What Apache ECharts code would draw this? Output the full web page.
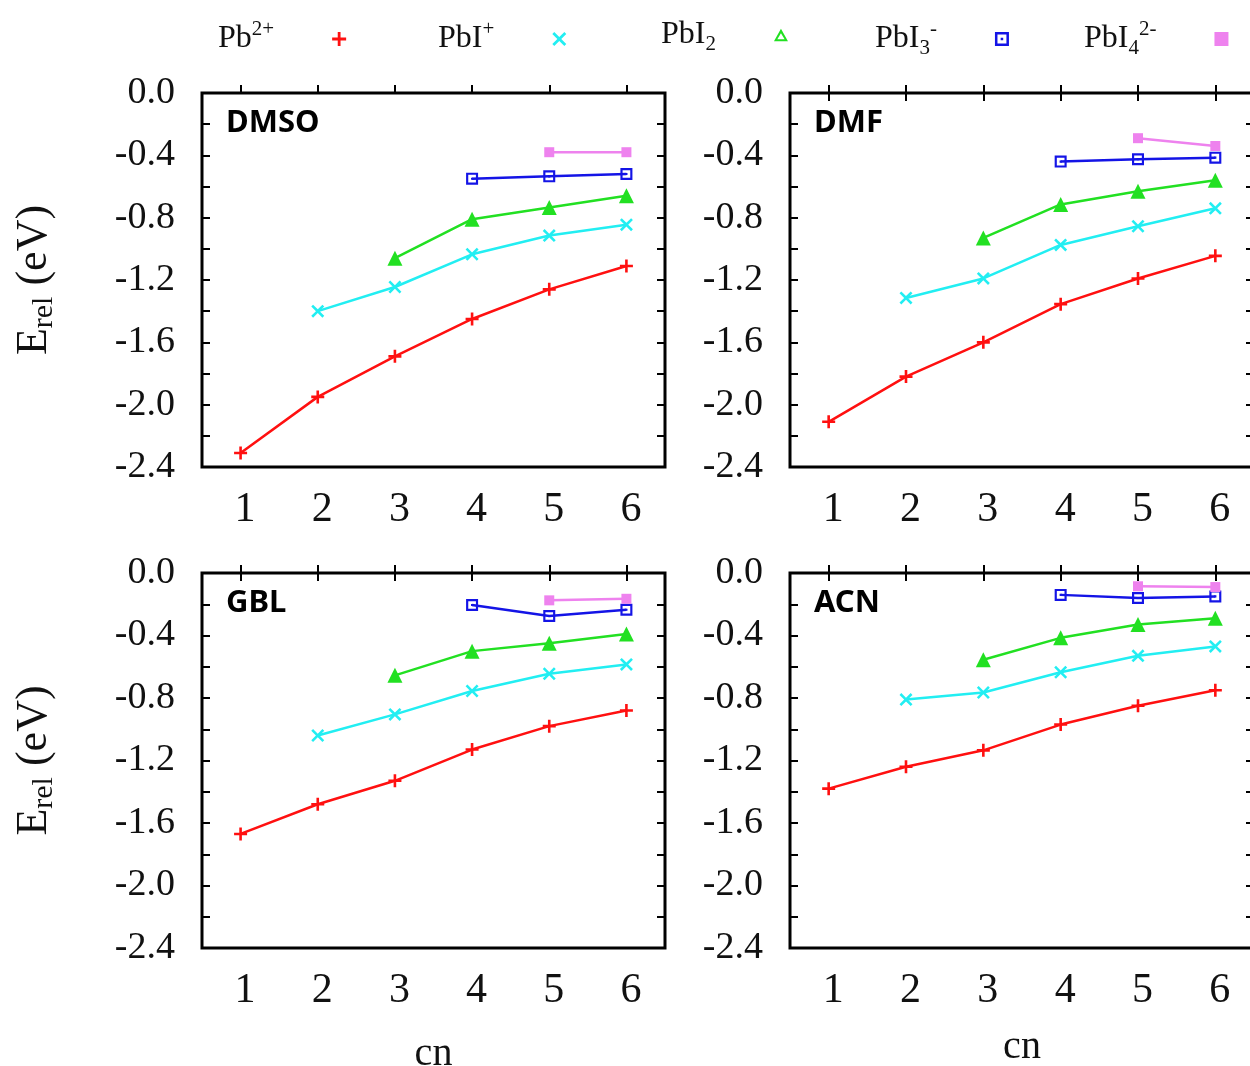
<!DOCTYPE html>
<html>
<head>
<meta charset="utf-8">
<script src="https://cdn.jsdelivr.net/npm/echarts@6/dist/echarts.min.js"></script>
<style>
html, body { margin: 0; padding: 0; background: #fff; }
#chart { width: 1250px; height: 1066px; }
</style>
</head>
<body>
<div id="chart"></div>
<script>
// coordination number
const cn = ['1', '2', '3', '4', '5', '6']
const species = ['Pb2+', 'PbI+', 'PbI2', 'PbI3-', 'PbI42-']
const solvents = ['DMSO', 'DMF', 'GBL', 'ACN']

// E_rel (eV), null = no point at that cn
const dmsoPb = [-2.31, -1.95, -1.69, -1.45, -1.26, -1.11]
const dmsoPbI = [null, -1.40, -1.245, -1.035, -0.915, -0.845]
const dmsoPbI2 = [null, null, -1.06, -0.81, -0.735, -0.66]
const dmsoPbI3 = [null, null, null, -0.55, -0.535, -0.52]
const dmsoPbI4 = [null, null, null, null, -0.38, -0.38]

const dmfPb = [-2.11, -1.82, -1.60, -1.355, -1.19, -1.045]
const dmfPbI = [null, -1.315, -1.19, -0.975, -0.855, -0.74]
const dmfPbI2 = [null, null, -0.93, -0.715, -0.63, -0.56]
const dmfPbI3 = [null, null, null, -0.44, -0.425, -0.415]
const dmfPbI4 = [null, null, null, null, -0.29, -0.34]

const gblPb = [-1.67, -1.48, -1.33, -1.13, -0.98, -0.88]
const gblPbI = [null, -1.04, -0.905, -0.755, -0.645, -0.585]
const gblPbI2 = [null, null, -0.655, -0.50, -0.45, -0.39]
const gblPbI3 = [null, null, null, -0.205, -0.275, -0.235]
const gblPbI4 = [null, null, null, null, -0.175, -0.165]

const acnPb = [-1.38, -1.24, -1.135, -0.97, -0.85, -0.75]
const acnPbI = [null, -0.81, -0.765, -0.635, -0.53, -0.47]
const acnPbI2 = [null, null, -0.555, -0.415, -0.33, -0.29]
const acnPbI3 = [null, null, null, -0.14, -0.16, -0.15]
const acnPbI4 = [null, null, null, null, -0.085, -0.09]

const panelData = [
  [dmsoPb, dmsoPbI, dmsoPbI2, dmsoPbI3, dmsoPbI4],
  [dmfPb, dmfPbI, dmfPbI2, dmfPbI3, dmfPbI4],
  [gblPb, gblPbI, gblPbI2, gblPbI3, gblPbI4],
  [acnPb, acnPbI, acnPbI2, acnPbI3, acnPbI4]
]

// layout of the 4 boxes (right column runs a bit past the page edge, like the original)
const boxes = [
  { left: 202, top: 93, width: 463, height: 374, topTicks: false, yName: true, cnGap: 0 },
  { left: 790, top: 93, width: 464, height: 374, topTicks: true, yName: false, cnGap: 0 },
  { left: 202, top: 573, width: 463, height: 375, topTicks: true, yName: true, cnGap: 86 },
  { left: 790, top: 573, width: 464, height: 375, topTicks: true, yName: false, cnGap: 79 }
]

const colors = ['#ff1010', '#22eef2', '#22e022', '#1414e6', '#ee82ee']
const plusPath = 'path://M4,0H6V4H10V6H6V10H4V6H0V4H4Z'
const crossPath = 'path://M1.4,0L5,3.6L8.6,0L10,1.4L6.4,5L10,8.6L8.6,10L5,6.4L1.4,10L0,8.6L3.6,5L0,1.4Z'
const openTriPath = 'path://M5,0L10,9H0Z M5,3.2L2.4,7.6H7.6Z'
const dotSquarePath = 'path://M0,0H10V10H0Z M1.8,1.8V8.2H8.2V1.8Z M4.1,4.1H5.9V5.9H4.1Z'
const symbols = [plusPath, crossPath, 'triangle', dotSquarePath, 'rect']
const symbolSizes = [13, 13, 15, 12, 10]
const legendIcons = [plusPath, crossPath, openTriPath, dotSquarePath, 'rect']
const legendLeft = [213, 433, 656, 870, 1079]

const serif = '"Liberation Serif", "Times New Roman", serif'
const labelFmt = {
  'Pb2+': '{t|Pb}{sup|2+}{g| }',
  'PbI+': '{t|PbI}{sup|+}{g| }',
  'PbI2': '{t|PbI}{sub|2}{g| }',
  'PbI3-': '{t|PbI}{sub|3}{sup|-}{g| }',
  'PbI42-': '{t|PbI}{sub|4}{sup|2-}{g| }'
}

const grid = []
const xAxis = []
const yAxis = []
const series = []
const graphic = []
const tick = { show: true, inside: true, length: 8, lineStyle: { color: '#000', width: 2 } }

boxes.forEach((b, i) => {
  grid.push({
    left: b.left, top: b.top, width: b.width, height: b.height,
    outerBoundsMode: 'none',
    containLabel: false,
    show: true, borderColor: '#000', borderWidth: 3, backgroundColor: 'transparent'
  })
  xAxis.push({
    type: 'category', gridIndex: i, data: cn, position: 'bottom',
    boundaryGap: true,
    axisLine: { show: false },
    axisTick: Object.assign({ alignWithLabel: true }, tick),
    axisLabel: { fontFamily: serif, fontSize: 42, color: '#111', margin: 22, padding: [0, 0, 0, 9] },
    splitLine: { show: false },
    name: b.cnGap ? 'cn' : '',
    nameLocation: 'middle',
    nameGap: b.cnGap,
    nameTextStyle: { fontFamily: serif, fontSize: 40, color: '#111' }
  })
  xAxis.push({
    type: 'category', gridIndex: i, data: cn, position: 'top',
    boundaryGap: true,
    axisLine: { show: false },
    axisTick: Object.assign({ alignWithLabel: true }, tick, { show: b.topTicks }),
    axisLabel: { show: false },
    splitLine: { show: false }
  })
  yAxis.push({
    type: 'value', gridIndex: i, position: 'left',
    min: -2.4, max: 0, interval: 0.2,
    axisLine: { show: false },
    axisTick: tick,
    splitLine: { show: false },
    axisLabel: {
      fontFamily: serif, fontSize: 38, color: '#111', margin: 27,
      padding: [4, 0, 0, 0],
      formatter: v => (Math.round(v * 10) % 4 === 0 ? v.toFixed(1) : '')
    },
    name: b.yName ? '{e|E}{s|rel}{e| (eV)}' : '',
    nameLocation: 'middle',
    nameRotate: 90,
    nameGap: 143,
    nameTextStyle: {
      rich: {
        e: { fontFamily: serif, fontSize: 44, color: '#111', lineHeight: 50, verticalAlign: 'middle' },
        s: { fontFamily: serif, fontSize: 30, color: '#111', lineHeight: 50, verticalAlign: 'bottom' }
      }
    }
  })
  yAxis.push({
    type: 'value', gridIndex: i, position: 'right',
    min: -2.4, max: 0, interval: 0.2,
    axisLine: { show: false },
    axisTick: tick,
    axisLabel: { show: false },
    splitLine: { show: false }
  })
  species.forEach((sp, k) => {
    series.push({
      name: sp,
      type: 'line',
      xAxisIndex: 2 * i,
      yAxisIndex: 2 * i,
      data: panelData[i][k],
      connectNulls: false,
      symbol: symbols[k],
      symbolSize: symbolSizes[k],
      showAllSymbol: true,
      color: colors[k],
      itemStyle: { color: colors[k] },
      lineStyle: { color: colors[k], width: 2.5 },
      animation: false,
      z: 3 + k
    })
  })
  graphic.push({
    type: 'text',
    x: b.left + 24,
    y: b.top + 30,
    style: {
      text: solvents[i],
      font: 'bold 31px "Noto Sans", "Open Sans", sans-serif',
      fill: '#000',
      align: 'left',
      verticalAlign: 'middle'
    }
  })
})

const legend = species.map((sp, k) => ({
  data: [{ name: sp, icon: legendIcons[k] }],
  left: legendLeft[k],
  top: 14,
  align: 'right',
  itemWidth: 14,
  itemHeight: 14,
  selectedMode: false,
  formatter: name => labelFmt[name],
  textStyle: {
    rich: {
      t: { fontFamily: serif, fontSize: 32, color: '#111', lineHeight: 40, verticalAlign: 'middle' },
      sup: { fontFamily: serif, fontSize: 21, color: '#111', lineHeight: 40, verticalAlign: 'top' },
      sub: { fontFamily: serif, fontSize: 21, color: '#111', lineHeight: 40, verticalAlign: 'bottom' },
      g: { width: 53, fontSize: 10 }
    }
  }
}))

const chart = echarts.init(document.getElementById('chart'))
chart.setOption({
  backgroundColor: '#fff',
  animation: false,
  legend: legend,
  grid: grid,
  xAxis: xAxis,
  yAxis: yAxis,
  series: series,
  graphic: graphic
})
</script>
</body>
</html>
